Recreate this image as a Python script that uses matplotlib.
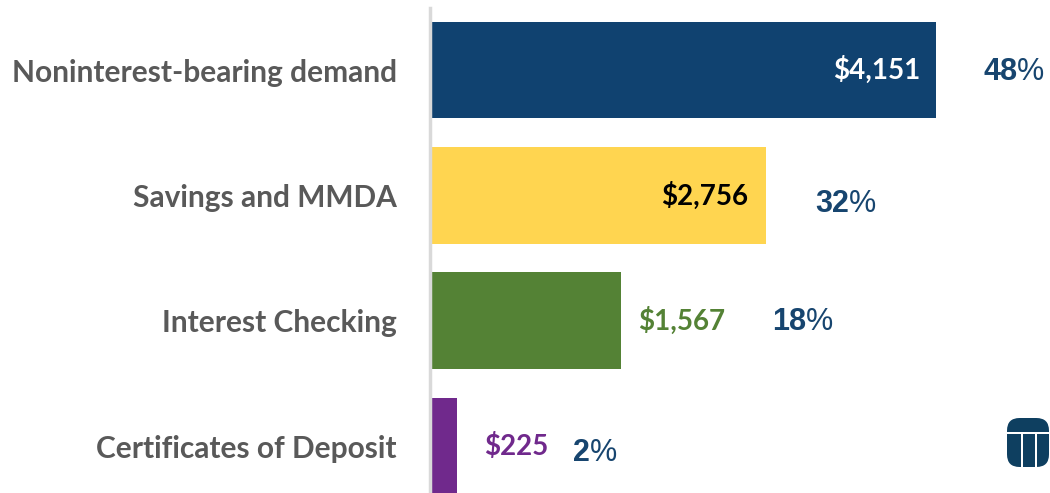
import matplotlib
matplotlib.use("Agg")
import matplotlib.pyplot as plt
from matplotlib.patches import FancyBboxPatch, Rectangle

categories = ["Noninterest-bearing demand", "Savings and MMDA", "Interest Checking", "Certificates of Deposit"]
values = [4151, 2756, 1567, 225]
value_labels = ["$4,151", "$2,756", "$1,567", "$225"]
pct_values = ["48", "32", "18", "2"]

bar_colors = ["#104270", "#FFD550", "#548235", "#70298C"]
label_colors = ["#FFFFFF", "#000000", "#548235", "#70298C"]
label_inside = [True, True, False, False]
label_offsets = [-16, -18, 17, 27]       # pixel offset from bar end
pct_offsets = [47, 49, 151, 116]          # pixel offset from bar end
pct_dy = [-2, -8.5, -1, -7]               # pixel vertical offset (negative = down)
pct_color = "#17456F"

plt.rcParams['font.family'] = ['Lato', 'DejaVu Sans']

W, H = 1050, 493
fig = plt.figure(figsize=(W / 100, H / 100), dpi=100)
ax = fig.add_axes([430 / W, 0, (W - 430) / W, (493 - 8) / H])

y = list(range(len(categories)))
ax.barh(y, values, height=0.77, color=bar_colors, zorder=2)
ax.set_xlim(0, 5086)
ax.set_ylim(3.375, -0.495)

for s in ["top", "right", "bottom"]:
    ax.spines[s].set_visible(False)
ax.spines["left"].set_color("#D9D9D9")
ax.spines["left"].set_linewidth(2.5)
ax.set_xticks([])
ax.set_yticks(y)
ax.set_yticklabels(categories, fontsize=21.5, fontweight='bold', color="#595959")
ax.tick_params(axis='y', length=0, pad=24)

px = 72 / 100
for i, v in enumerate(values):
    ax.annotate(value_labels[i], xy=(v, i), xytext=(label_offsets[i] * px, 0), textcoords='offset points',
                ha='right' if label_inside[i] else 'left', va='center',
                fontsize=20, fontweight='bold', color=label_colors[i])
    t = ax.annotate(pct_values[i], xy=(v, i), xytext=(pct_offsets[i] * px, pct_dy[i] * px),
                    textcoords='offset points', ha='left', va='center', fontsize=22,
                    fontweight='bold', color=pct_color, family=['Liberation Sans', 'DejaVu Sans'])
    ax.annotate("%", xy=(1, 0), xycoords=t, ha='left', va='bottom',
                fontsize=22, fontweight='normal', color=pct_color,
                family=['Liberation Sans', 'DejaVu Sans'])

# logo
logo_col = "#0E3F60"
lx0, ly0, lw, lh = 1007 / W, (H - 467) / H, 42 / W, 49 / H
fig.patches.append(FancyBboxPatch((lx0, ly0), lw, lh, boxstyle="round,pad=0,rounding_size=0.012",
                                  transform=fig.transFigure, facecolor=logo_col, edgecolor='none',
                                  mutation_aspect=W / H))
fig.patches.append(Rectangle((lx0, (H - 434) / H), lw, 2 / H, transform=fig.transFigure,
                             facecolor='white', edgecolor='none'))
for xx in [1021, 1035]:
    fig.patches.append(Rectangle((xx / W, ly0), 2 / W, (467 - 434) / H,
                                 transform=fig.transFigure, facecolor='white', edgecolor='none'))

fig.savefig("out.png", dpi=100)
